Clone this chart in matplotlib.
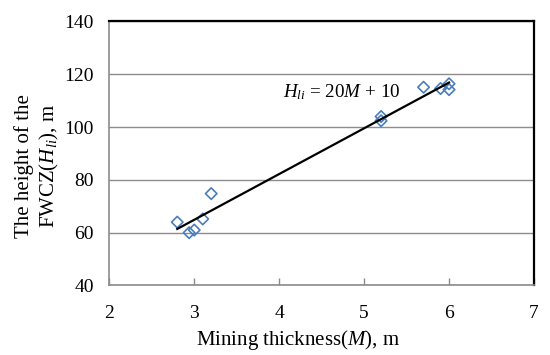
import numpy as np
import matplotlib
matplotlib.use("Agg")
import matplotlib.pyplot as plt

M = [2.8, 2.94, 3.0, 3.1, 3.2, 5.2, 5.2, 5.7, 5.9, 6.0, 6.0]
H = [64.0, 60.0, 61.0, 65.2, 74.8, 104.0, 102.4, 115.1, 114.6, 116.4, 114.2]
xticks = [2, 3, 4, 5, 6, 7]
yticks = [40, 60, 80, 100, 120, 140]

plt.rcParams['font.family'] = ['Liberation Serif', 'DejaVu Serif']
plt.rcParams['mathtext.fontset'] = 'custom'
plt.rcParams['mathtext.rm'] = 'Liberation Serif'
plt.rcParams['mathtext.it'] = 'Liberation Serif:italic'

fig = plt.figure(figsize=(5.5, 3.55), dpi=100)
ax = fig.add_axes([0.1987, 0.1958, 0.7722, 0.7437])

ax.set_xlim(2, 7)
ax.set_ylim(40, 140)
ax.set_xticks(xticks)
ax.set_yticks(yticks)
ax.yaxis.grid(True, color='#8c8c8c', linewidth=1.0)
ax.set_axisbelow(True)

ax.scatter(M, H, marker='D', s=34, facecolors='none', edgecolors='#4a7ebb',
           linewidths=1.2, zorder=3)
coef = np.polyfit(M, H, 1)
xs = np.array([min(M), max(M)])
ax.plot(xs, np.polyval(coef, xs), color='black', linewidth=1.6, zorder=4)

ax.text(4.05, 113.3, r'$H_{li}$ = 20$M$ + 10', fontsize=13.7, va='center', ha='left')

for s in ['left', 'bottom']:
    ax.spines[s].set_color('#8c8c8c')
    ax.spines[s].set_linewidth(1.2)
for s in ['top', 'right']:
    ax.spines[s].set_color('black')
    ax.spines[s].set_linewidth(1.6)

ax.tick_params(axis='x', direction='in', length=5, width=1, color='#8c8c8c',
               labelsize=14, pad=14, top=False)
ax.tick_params(axis='y', length=0, labelsize=14, pad=11, right=False)

ax.set_xlabel('Mining thickness($M$), m', fontsize=15)
ax.xaxis.set_label_coords(0.444, -0.16)
ax.set_ylabel('The height of the\nFWCZ($H_{li}$), m', fontsize=15, linespacing=1.25)
ax.yaxis.set_label_coords(-0.113, 0.453)

fig.savefig('out.png', dpi=100)
